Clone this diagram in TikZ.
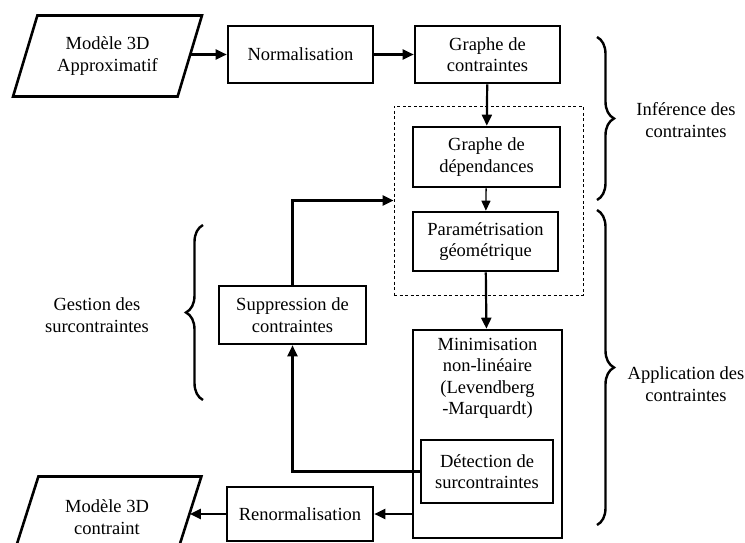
\documentclass[tikz,border=0pt]{standalone}
\usepackage{fontspec}
\setmainfont{Liberation Serif}
\usetikzlibrary{shapes,arrows.meta,positioning,calc,decorations.pathreplacing}

\begin{document}
\begin{tikzpicture}[x=1pt, y=-1pt,
    every node/.style={font=\fontsize{18.5}{21.5}\selectfont, align=center},
    box/.style={draw, line width=2.6pt, minimum width=145pt, minimum height=57pt, inner sep=2pt},
    io/.style={draw, line width=2.6pt, trapezium, trapezium left angle=65.5, trapezium right angle=114.5,
        trapezium stretches=true, minimum width=189pt, minimum height=81pt, inner sep=0pt},
    dotbox/.style={draw, line width=0.8pt, dash pattern=on 3pt off 2.5pt, minimum width=189pt, minimum height=189pt},
    arr/.style={-{Triangle[length=11pt,width=10pt]}, line width=2.2pt},
    thinarr/.style={-{Triangle[length=10pt,width=9pt]}, line width=1.3pt},
    curly/.style={decorate, decoration={brace, amplitude=17pt}, line width=2.4pt}]
    \clip (0,0) rectangle (745,543);
    % inference
    \node[io] (in) at (107.5,56) {Modèle 3D\\Approximatif};
    \node[box] (norm) at (300.5,54.5) {Normalisation};
    \node[box] (gc) at (487.5,54.5) {Graphe de\\contraintes};
    \node[dotbox] (infbox) at (488.5,200.5) {};
    \node[box, minimum width=147pt, minimum height=60pt] (gd) at (486.5,157) {Graphe de\\dépendances};
    \node[box, minimum height=59pt] (param) at (485.5,241.5) {Paramétrisation\\géométrique};
    % application
    \node[box, minimum width=149pt, minimum height=208pt,
        label={[anchor=north, inner sep=0pt, yshift=-9pt]north:Minimisation\\non-linéaire\\(Levendberg\\-Marquardt)}] (minim) at (487.5,434) {};
    \node[draw, line width=1.2pt, minimum width=132pt, minimum height=63pt, inner sep=1pt] (det) at (487,471.5) {Détection de\\surcontraintes};
    \node[box, minimum width=147pt, minimum height=58pt] (supp) at (292.5,315) {Suppression de\\contraintes};
    \node[box, minimum width=146pt, minimum height=54pt] (renorm) at (300,514) {Renormalisation};
    \node[io] (out) at (107,517) {Modèle 3D\\contraint};
    % connecteurs
    \draw[arr] (in.east |- norm) -- (norm);
    \draw[arr] (norm) -- (gc);
    \draw[arr] (gc) -- (gd);
    \draw[thinarr] (gd) -- (param);
    \draw[arr] (param) -- (minim);
    \draw[arr] (det.west) -| (supp.south);
    \draw[arr] (supp.north) |- (infbox.west);
    \draw[arr] (renorm -| minim.west) -- (renorm.east);
    \draw[arr] (renorm) -- (renorm -| out.east);
    % accolades
    \draw[curly] (597,37) -- (597,200);
    \draw[curly] (597,210) -- (597,525);
    \draw[curly] (203,400) -- (203,225);
    \node (inf) at (686,120) {Inférence des\\contraintes};
    \node (app) at (686,384) {Application des\\contraintes};
    \node (gest) at (97,315) {Gestion des\\surcontraintes};
\end{tikzpicture}
\end{document}
